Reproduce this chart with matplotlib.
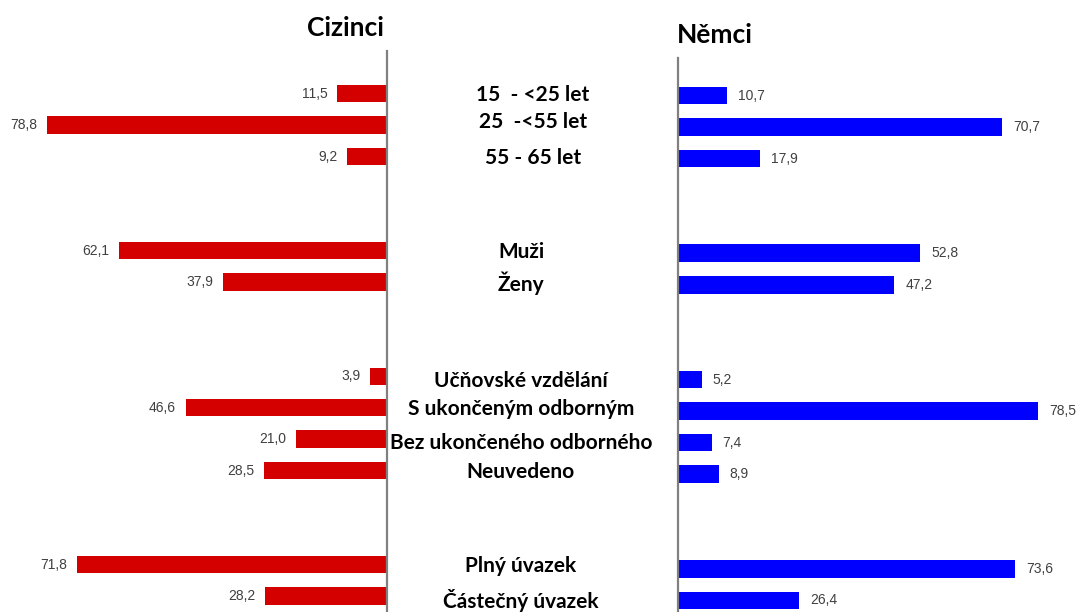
import matplotlib.pyplot as plt
from matplotlib.transforms import blended_transform_factory, offset_copy

# podíly v % (Cizinci vlevo, Němci vpravo)
kategorie = ["15  - <25 let", "25  -<55 let", "55 - 65 let",
             "Muži", "Ženy",
             "Učňovské vzdělání", "S ukončeným odborným",
             "Bez ukončeného odborného", "Neuvedeno",
             "Plný úvazek", "Částečný úvazek"]
pozice = [0, 1, 2, 5, 6, 9, 10, 11, 12, 15, 16]
cizinci = [11.5, 78.8, 9.2, 62.1, 37.9, 3.9, 46.6, 21.0, 28.5, 71.8, 28.2]
nemci = [10.7, 70.7, 17.9, 52.8, 47.2, 5.2, 78.5, 7.4, 8.9, 73.6, 26.4]

W, H = 1078, 612
fig = plt.figure(figsize=(W / 100, H / 100), dpi=100)


def px_box(x0, x1, y0, y1):
    # obdelnik v pixelech (y od horniho okraje) -> souradnice figury
    return [x0 / W, 1 - y1 / H, (x1 - x0) / W, (y1 - y0) / H]


ax_l = fig.add_axes(px_box(0, 386.7, 51, H))
ax_r = fig.add_axes(px_box(677.7, W, 58.3, H))

ax_l.set_xlim(-386.7 / 4.317, 0)
ax_l.set_ylim((H - 93.7) / 31.4, (51 - 93.7) / 31.4)
ax_r.set_xlim(0, (W - 677.7) / 4.586)
ax_r.set_ylim((H - 95.5) / 31.56, (58.3 - 95.5) / 31.56)

ax_l.barh(pozice, [-v for v in cizinci], height=0.56, color="#d40000")
ax_r.barh(pozice, nemci, height=0.56, color="#0000ff")

fmt = lambda v: f"{v:.1f}".replace(".", ",")
for y, v in zip(pozice, cizinci):
    ax_l.annotate(fmt(v), (-v, y), xytext=(-7, 0), textcoords="offset points",
                  ha="right", va="center", fontsize=10, color="#404040",
                  family="Liberation Sans")
for y, v in zip(pozice, nemci):
    ax_r.annotate(fmt(v), (v, y), xytext=(8, 0), textcoords="offset points",
                  ha="left", va="center", fontsize=10, color="#404040",
                  family="Liberation Sans")

for ax in (ax_l, ax_r):
    ax.set_xticks([])
    ax.set_yticks([])
    for s in ax.spines.values():
        s.set_visible(False)
    ax.patch.set_alpha(0)
ax_l.spines["right"].set_visible(True)
ax_r.spines["left"].set_visible(True)
for s in (ax_l.spines["right"], ax_r.spines["left"]):
    s.set_color("#808080")
    s.set_linewidth(1.6)

# popisky kategorii uprostred (posun v px nahoru/dolu)
posun = [0, 5, 0, 0, 0, -3, 0, -2, 0, 0, -3]
trans = blended_transform_factory(fig.transFigure, ax_l.transData)
for i, (txt, y) in enumerate(zip(kategorie, pozice)):
    x = 533 if i < 3 else 521
    t = offset_copy(trans, fig=fig, y=posun[i], units="dots")
    fig.text(x / W, y + 0.05, txt, transform=t, ha="center", va="center",
             fontsize=15, fontweight="bold", family="Lato")

fig.text(345 / W, 1 - 28 / H, "Cizinci", ha="center", va="center",
         fontsize=19, fontweight="bold", family="Lato")
fig.text(715 / W, 1 - 35 / H, "Němci", ha="center", va="center",
         fontsize=19, fontweight="bold", family="Lato")

fig.savefig("out.png", dpi=100)
